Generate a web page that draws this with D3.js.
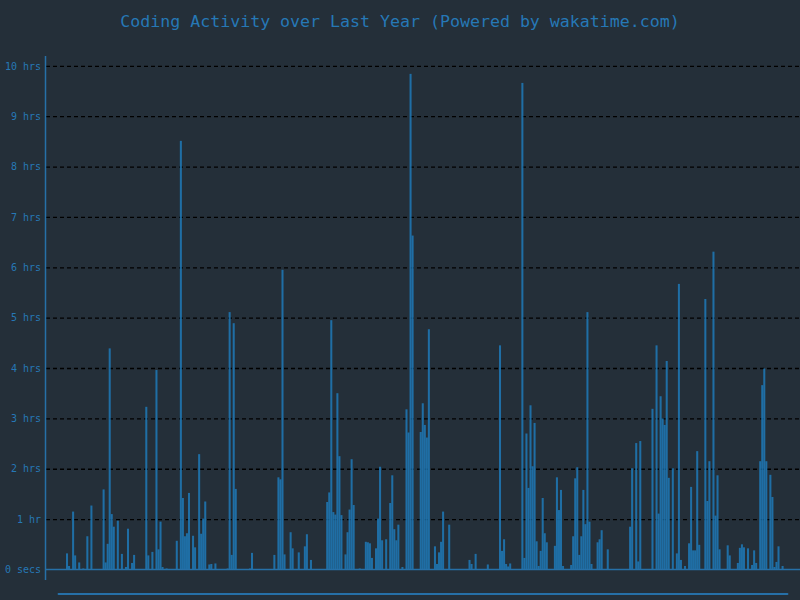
<!DOCTYPE html>
<html><head><meta charset="utf-8">
<script src="https://cdn.jsdelivr.net/npm/d3@7"></script>
<style>
html,body{margin:0;padding:0;background:#242f39;}
svg{display:block;}
</style></head><body>
<svg id="chart" width="800" height="600"></svg>
<script>
const chartTitle = "Coding Activity over Last Year (Powered by wakatime.com)";
const dayCount = 365;
const activeDays = [9,10,12,13,15,17,19,21,27,28,29,30,31,32,34,36,38,39,41,42,48,49,51,53,54,55,56,58,63,65,66,67,68,69,71,72,74,75,76,77,79,80,82,88,89,90,91,92,98,99,100,111,113,114,115,116,119,120,122,123,126,127,129,131,137,138,139,140,141,142,143,144,146,147,148,149,150,153,156,157,158,159,161,162,163,164,166,168,169,170,171,172,174,176,177,178,179,183,184,185,186,187,190,191,192,193,194,197,207,208,210,216,222,223,224,225,226,227,233,234,235,236,237,238,239,240,241,242,243,244,245,249,250,251,252,253,257,258,259,260,261,262,263,264,265,266,267,270,271,272,275,286,287,289,290,291,297,299,300,301,302,303,304,305,307,309,310,311,313,315,316,317,318,319,320,323,324,325,327,328,329,330,334,335,339,340,341,342,344,346,347,348,350,351,352,353,355,356,357,358,359,361];
const activeHours = [0.32,0.07,1.15,0.28,0.14,0.02,0.66,1.27,1.59,0.14,0.51,4.39,1.10,0.85,0.97,0.31,0.05,0.81,0.13,0.29,3.23,0.28,0.35,3.96,0.40,0.95,0.05,0.02,0.57,8.51,1.42,0.66,0.72,1.52,0.67,0.44,2.29,0.71,1.01,1.35,0.10,0.11,0.12,0.02,5.11,0.29,4.89,1.60,0.01,0.02,0.33,0.29,1.83,1.79,5.95,0.30,0.74,0.42,0.01,0.34,0.46,0.70,0.19,0.01,1.34,1.53,4.95,1.14,1.09,3.50,2.25,1.08,0.30,0.74,1.19,2.19,1.28,0.02,0.55,0.54,0.52,0.23,0.42,1.01,2.04,0.58,0.60,1.32,1.87,0.80,0.58,0.89,0.05,3.18,2.72,9.84,6.63,2.73,3.30,2.87,2.62,4.77,0.46,0.11,0.34,0.55,1.15,0.89,0.19,0.11,0.31,0.10,4.45,0.37,0.60,0.11,0.06,0.12,9.66,0.23,2.70,1.62,3.26,2.05,2.91,0.56,0.07,0.37,1.42,0.72,0.54,0.47,1.83,1.18,1.58,0.07,0.09,0.66,1.81,2.03,0.29,0.66,1.58,0.90,5.11,0.95,0.11,0.54,0.60,0.78,0.40,0.85,2.01,2.51,0.16,2.55,3.19,4.45,1.11,3.44,3.00,2.87,4.14,1.82,2.01,0.32,5.67,0.19,0.07,0.52,1.64,0.38,0.38,2.35,0.49,5.37,1.36,2.15,6.31,1.07,1.87,0.40,0.48,0.28,0.13,0.43,0.50,0.44,0.42,0.09,0.38,0.13,2.15,3.66,3.99,2.15,1.88,1.44,0.05,0.15,0.46,0.07];
const tickValues = [0,1,2,3,4,5,6,7,8,9,10];
const tickLabels = ["0 secs","1 hr","2 hrs","3 hrs","4 hrs","5 hrs","6 hrs","7 hrs","8 hrs","9 hrs","10 hrs"];

const W = 800, H = 600;
const svg = d3.select("#chart");
svg.append("rect").attr("width", W).attr("height", H).attr("fill", "#242f39");

const x = d3.scaleBand().domain(d3.range(dayCount)).range([47.7, 789.7]).padding(0);
const y = d3.scaleLinear().domain([0, 10]).range([569.5, 65.8]);

const bars = activeDays.map((d, k) => ({day: d, h: activeHours[k]}));

// title
svg.append("text")
  .attr("x", 400).attr("y", 26.5)
  .attr("text-anchor", "middle")
  .attr("font-family", "'DejaVu Sans Mono', monospace")
  .attr("font-size", "16.6px")
  .attr("fill", "#2678b6")
  .text(chartTitle);

// gridlines
const grid = svg.append("g").attr("transform", "translate(46,0)")
  .call(d3.axisLeft(y).tickValues(tickValues.slice(1)).tickSize(-(W - 46)).tickFormat(""));
grid.select(".domain").remove();
grid.selectAll("line").attr("stroke", "#000").attr("stroke-width", 1.3).attr("stroke-dasharray", "4,3");

// bars
svg.append("g").selectAll("rect").data(bars).join("rect")
  .attr("x", d => x(d.day))
  .attr("width", x.bandwidth())
  .attr("y", d => y(d.h))
  .attr("height", d => y(0) - y(d.h))
  .attr("fill", "#1f77b4")
  .attr("fill-opacity", 0.88);

// baseline
svg.append("line").attr("x1", 46).attr("x2", W).attr("y1", y(0)).attr("y2", y(0))
  .attr("stroke", "#2670a8").attr("stroke-width", 1.6);

// y axis labels
const yAxis = svg.append("g").attr("transform", "translate(46,0)")
  .call(d3.axisLeft(y).tickValues(tickValues).tickSize(0).tickPadding(5)
    .tickFormat((d, i) => tickLabels[i]));
yAxis.select(".domain").remove();
yAxis.selectAll("text")
  .attr("font-family", "'DejaVu Sans Mono', monospace")
  .attr("font-size", "10px")
  .attr("fill", "#2678b6");

// y axis line
svg.append("line").attr("x1", 45.5).attr("x2", 45.5).attr("y1", 56).attr("y2", 580)
  .attr("stroke", "#2670a8").attr("stroke-width", 1.5);

// bottom scroll bar
svg.append("line").attr("x1", 58.5).attr("x2", 787.5).attr("y1", 594).attr("y2", 594)
  .attr("stroke", "#2670a8").attr("stroke-width", 1.8).attr("stroke-linecap", "round");
</script>
</body></html>
